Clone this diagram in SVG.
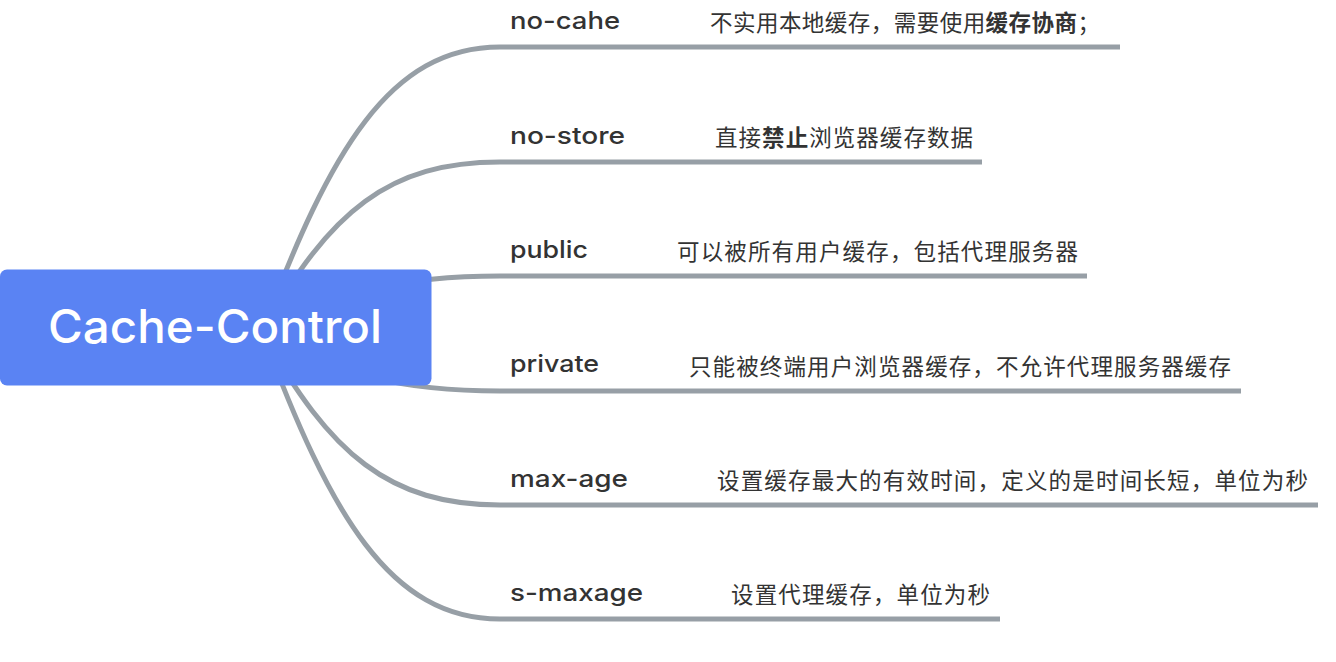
<svg xmlns="http://www.w3.org/2000/svg" width="1336" height="662" viewBox="0 0 1336 662">
<style>
.conn{fill:none;stroke:#979fa6;stroke-width:5;stroke-linecap:butt}
.ul{stroke:#979fa6;stroke-width:5}
.lbl{font-family:Inter,"Liberation Sans",sans-serif;font-weight:500;font-size:24px;fill:#333333}
.desc{font-family:"Noto Sans CJK SC","Noto Sans",sans-serif;font-size:22.5px;fill:#333333}
.b{font-weight:700}
.root-t{font-family:Inter,"Liberation Sans",sans-serif;font-weight:500;font-size:46px;fill:#ffffff}
</style>
<rect width="1336" height="662" fill="#ffffff"/>
<g id="connectors">
<path class="conn" d="M262,332 C330,150 390,47 500,47"/>
<path class="conn" d="M262,332 C330,210 390,162 500,162"/>
<path class="conn" d="M262,332 C340,292 400,276 500,276"/>
<path class="conn" d="M262,332 C340,375 400,391 500,391"/>
<path class="conn" d="M262,332 C330,455 390,505 500,505"/>
<path class="conn" d="M262,332 C330,515 390,619 500,619"/>
</g>
<g id="root">
<rect x="0" y="269.5" width="431.5" height="116" rx="7" fill="#5a83f3"/>
<text class="root-t" x="48" y="343" textLength="334" lengthAdjust="spacingAndGlyphs">Cache-Control</text>
</g>
<g id="no-cache">
<line class="ul" x1="500" y1="47" x2="630" y2="47"/>
<text class="lbl" x="510" y="29" textLength="110" lengthAdjust="spacingAndGlyphs">no-cahe</text>
</g>
<g id="no-cache-desc">
<line class="ul" x1="630" y1="47" x2="1120" y2="47"/>
<text class="desc" x="710" y="31" textLength="390">不实用本地缓存，需要使用<tspan class="b">缓存协商</tspan>；</text>
</g>
<g id="no-store">
<line class="ul" x1="500" y1="162" x2="634" y2="162"/>
<text class="lbl" x="510" y="144" textLength="115" lengthAdjust="spacingAndGlyphs">no-store</text>
</g>
<g id="no-store-desc">
<line class="ul" x1="634" y1="162" x2="982" y2="162"/>
<text class="desc" x="715" y="146" textLength="258">直接<tspan class="b">禁止</tspan>浏览器缓存数据</text>
</g>
<g id="public">
<line class="ul" x1="500" y1="276" x2="598" y2="276"/>
<text class="lbl" x="510" y="258" textLength="78" lengthAdjust="spacingAndGlyphs">public</text>
</g>
<g id="public-desc">
<line class="ul" x1="598" y1="276" x2="1087" y2="276"/>
<text class="desc" x="677" y="260" textLength="401">可以被所有用户缓存，包括代理服务器</text>
</g>
<g id="private">
<line class="ul" x1="500" y1="391" x2="608" y2="391"/>
<text class="lbl" x="510" y="372" textLength="89" lengthAdjust="spacingAndGlyphs">private</text>
</g>
<g id="private-desc">
<line class="ul" x1="608" y1="391" x2="1241" y2="391"/>
<text class="desc" x="689" y="375" textLength="542">只能被终端用户浏览器缓存，不允许代理服务器缓存</text>
</g>
<g id="max-age">
<line class="ul" x1="500" y1="505" x2="638" y2="505"/>
<text class="lbl" x="510" y="487" textLength="118" lengthAdjust="spacingAndGlyphs">max-age</text>
</g>
<g id="max-age-desc">
<line class="ul" x1="638" y1="505" x2="1318" y2="505"/>
<text class="desc" x="717" y="489" textLength="591">设置缓存最大的有效时间，定义的是时间长短，单位为秒</text>
</g>
<g id="s-maxage">
<line class="ul" x1="500" y1="619" x2="652" y2="619"/>
<text class="lbl" x="510" y="601" textLength="133" lengthAdjust="spacingAndGlyphs">s-maxage</text>
</g>
<g id="s-maxage-desc">
<line class="ul" x1="652" y1="619" x2="1000" y2="619"/>
<text class="desc" x="731" y="603" textLength="259">设置代理缓存，单位为秒</text>
</g>
</svg>
